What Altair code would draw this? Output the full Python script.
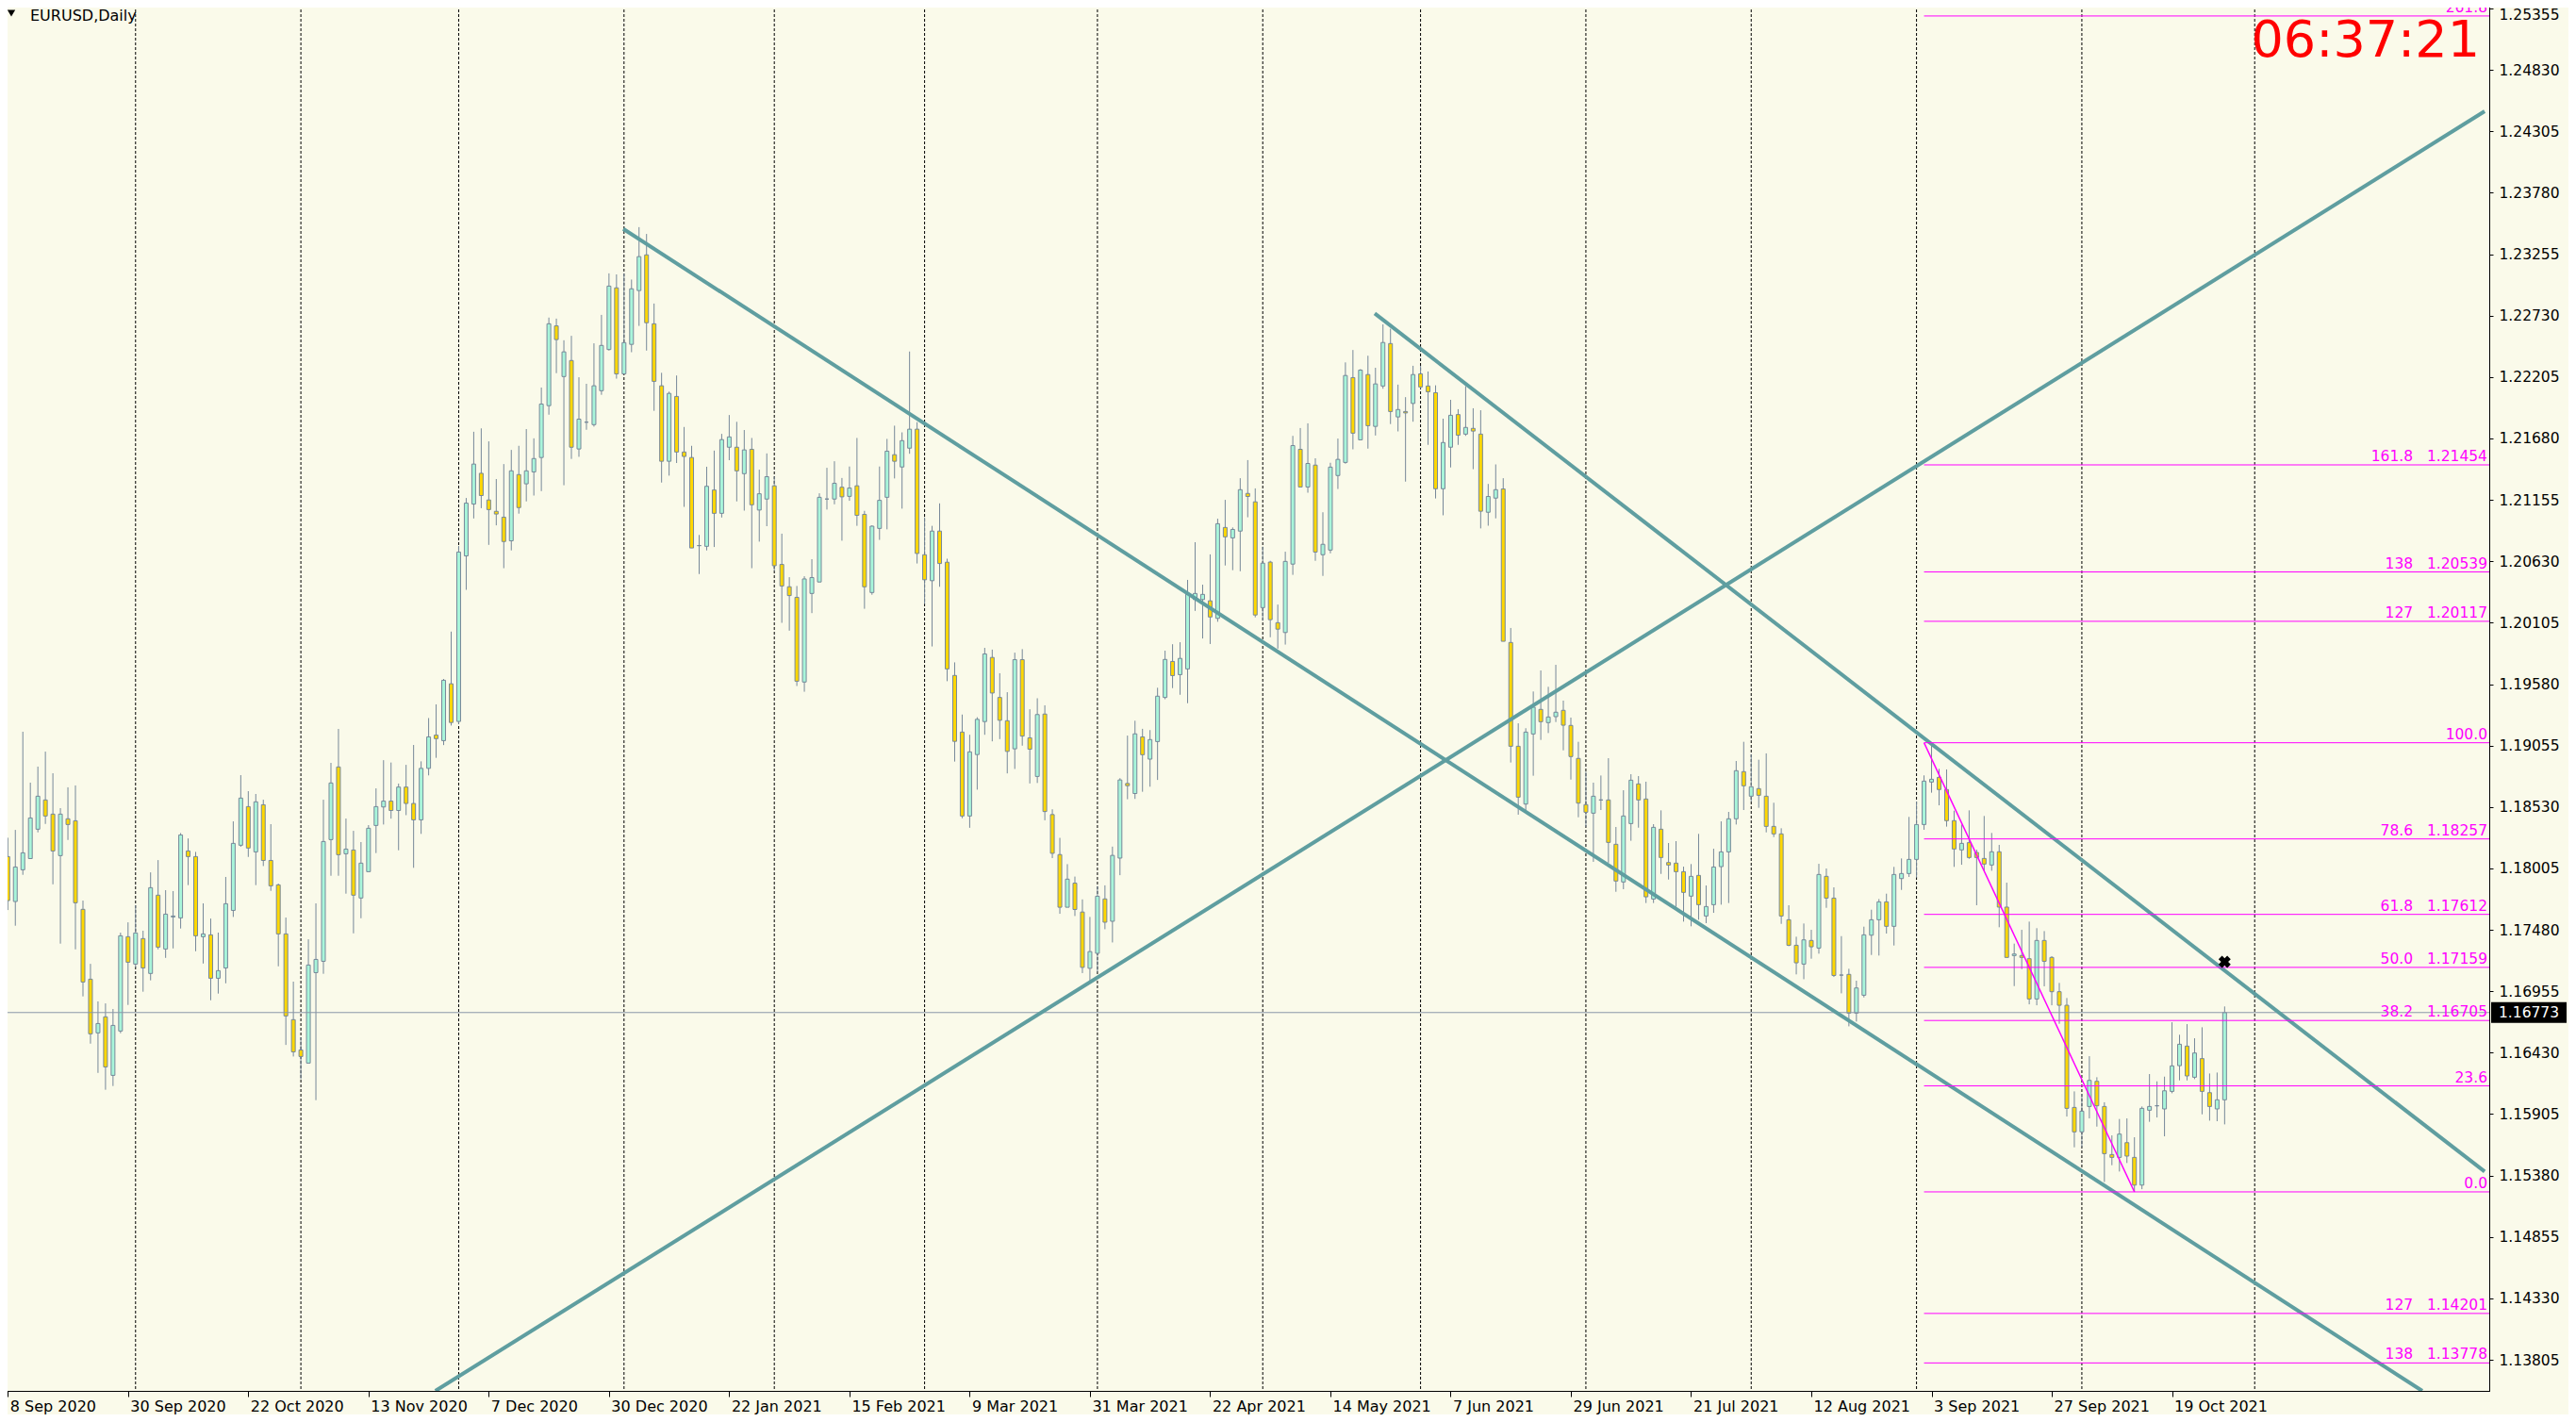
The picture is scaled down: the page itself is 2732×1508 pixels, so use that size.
import altair as alt
import pandas as pd

# ---------------- data (EURUSD daily, bar 0 = 8 Sep 2020) ----------------
opens = [
    1.18106, 1.17722, 1.17993, 1.18089, 1.18340, 1.18590, 1.18469, 1.18114, 1.18429, 1.18412,
    1.17655, 1.17058, 1.16599, 1.16736, 1.16236, 1.16615, 1.17421, 1.17187, 1.17405, 1.17107,
    1.17776, 1.17316, 1.17590, 1.17582, 1.18154, 1.18106, 1.17421, 1.17437, 1.17066, 1.17154,
    1.17646, 1.18203, 1.18533, 1.18146, 1.18549, 1.18073, 1.17864, 1.17445, 1.16712, 1.16453,
    1.16341, 1.17114, 1.17211, 1.18251, 1.18872, 1.18130, 1.18162, 1.17752, 1.17977, 1.18372,
    1.18530, 1.18580, 1.18500, 1.18700, 1.18560, 1.18420, 1.18860, 1.19144, 1.19097, 1.19583,
    1.19261, 1.20676, 1.21119, 1.21382, 1.21154, 1.21057, 1.21007, 1.20805, 1.21371, 1.21292,
    1.21394, 1.21517, 1.21960, 1.22642, 1.22209, 1.22346, 1.21590, 1.21819, 1.21798, 1.22088,
    1.22440, 1.22967, 1.22232, 1.22484, 1.22944, 1.23249, 1.22660, 1.22130, 1.21485, 1.22039,
    1.21564, 1.21517, 1.20764, 1.20758, 1.21239, 1.21040, 1.21605, 1.21605, 1.21379, 1.21587,
    1.21068, 1.21162, 1.21275, 1.20603, 1.20412, 1.20322, 1.19598, 1.20355, 1.20453, 1.21162,
    1.21162, 1.21263, 1.21185, 1.21275, 1.21031, 1.20363, 1.20911, 1.21177, 1.21541, 1.21436,
    1.21597, 1.21759, 1.20686, 1.20464, 1.20888, 1.20622, 1.19654, 1.19170, 1.18453, 1.18978,
    1.19260, 1.19808, 1.19466, 1.19267, 1.19027, 1.19789, 1.19121, 1.18791, 1.19324, 1.18465,
    1.18123, 1.17673, 1.17879, 1.17632, 1.17151, 1.17279, 1.17744, 1.17553, 1.18093, 1.18731,
    1.18645, 1.19129, 1.18939, 1.19089, 1.19466, 1.19774, 1.19661, 1.19710, 1.20303, 1.20303,
    1.20292, 1.20142, 1.20919, 1.20830, 1.20888, 1.21210, 1.21138, 1.20234, 1.20623, 1.20105,
    1.20021, 1.20606, 1.21587, 1.21265, 1.21452, 1.20686, 1.20726, 1.21363, 1.21475, 1.22200,
    1.21668, 1.22226, 1.21783, 1.22128, 1.22491, 1.21864, 1.21910, 1.21979, 1.22232, 1.22128,
    1.22071, 1.21250, 1.21605, 1.21884, 1.21717, 1.21766, 1.21717, 1.21049, 1.21170, 1.21248,
    1.19936, 1.19049, 1.18555, 1.19154, 1.19364, 1.19251, 1.19302, 1.19356, 1.19227, 1.18945,
    1.18550, 1.18477, 1.18590, 1.18590, 1.18211, 1.17889, 1.18388, 1.18727, 1.18598, 1.17743,
    1.18340, 1.18055, 1.18050, 1.17977, 1.17768, 1.17945, 1.17598, 1.17695, 1.18020, 1.18146,
    1.18429, 1.18832, 1.18622, 1.18687, 1.18622, 1.18364, 1.18300, 1.17566, 1.17348, 1.17187,
    1.17389, 1.17324, 1.17937, 1.17751, 1.17093, 1.17099, 1.16768, 1.16921, 1.17434, 1.17566,
    1.17719, 1.17510, 1.17918, 1.17961, 1.18082, 1.18380, 1.18743, 1.18783, 1.18679, 1.18413,
    1.18163, 1.18225, 1.18141, 1.18090, 1.18034, 1.18147, 1.17674, 1.17260, 1.17260, 1.17233,
    1.16889, 1.17389, 1.17244, 1.16951, 1.16835, 1.15962, 1.15753, 1.15970, 1.16185, 1.15970,
    1.15559, 1.15535, 1.15661, 1.15535, 1.15298, 1.15938, 1.15976, 1.15949, 1.16099, 1.16319,
    1.16486, 1.16220, 1.16379, 1.16088, 1.15949, 1.16027,
]
highs = [
    1.18267, 1.18334, 1.19173, 1.18738, 1.18875, 1.19003, 1.18818, 1.18520, 1.18698, 1.18714,
    1.17730, 1.17189, 1.16868, 1.16851, 1.16803, 1.17456, 1.17544, 1.17690, 1.17472, 1.17971,
    1.18076, 1.17819, 1.17811, 1.18307, 1.18261, 1.18146, 1.17706, 1.17576, 1.17456, 1.17932,
    1.18407, 1.18802, 1.18665, 1.18641, 1.18592, 1.18383, 1.17875, 1.17585, 1.17037, 1.16561,
    1.17399, 1.17706, 1.18592, 1.18907, 1.19197, 1.18431, 1.18326, 1.18230, 1.18375, 1.18689,
    1.18930, 1.18910, 1.18730, 1.18890, 1.19060, 1.18920, 1.19290, 1.19407, 1.19624, 1.20029,
    1.20761, 1.21171, 1.21737, 1.21766, 1.21655, 1.21333, 1.21461, 1.21582, 1.21617, 1.21760,
    1.21681, 1.22115, 1.22713, 1.22704, 1.22519, 1.22557, 1.22203, 1.22147, 1.22493, 1.22736,
    1.23091, 1.23082, 1.23091, 1.23038, 1.23486, 1.23428, 1.22833, 1.22241, 1.22080, 1.22218,
    1.21778, 1.21617, 1.20855, 1.21438, 1.21576, 1.21719, 1.21880, 1.21822, 1.21752, 1.21684,
    1.21413, 1.21552, 1.21353, 1.20866, 1.20494, 1.20419, 1.20502, 1.20648, 1.21211, 1.21429,
    1.21485, 1.21342, 1.21440, 1.21684, 1.21061, 1.20937, 1.21440, 1.21676, 1.21789, 1.21732,
    1.22423, 1.21819, 1.21005, 1.20933, 1.21125, 1.20652, 1.19766, 1.19320, 1.19147, 1.19297,
    1.19890, 1.19875, 1.19673, 1.19511, 1.19849, 1.19879, 1.19365, 1.19459, 1.19399, 1.18510,
    1.18266, 1.18041, 1.17935, 1.17740, 1.17590, 1.17853, 1.17860, 1.18191, 1.18776, 1.19140,
    1.19267, 1.19198, 1.19187, 1.19549, 1.19866, 1.19921, 1.19938, 1.20471, 1.20793, 1.20430,
    1.20689, 1.20994, 1.21155, 1.20919, 1.21340, 1.21495, 1.21253, 1.20755, 1.20634, 1.20260,
    1.20712, 1.21702, 1.21769, 1.21809, 1.21510, 1.21049, 1.21472, 1.21679, 1.22330, 1.22436,
    1.22272, 1.22387, 1.22284, 1.22655, 1.22618, 1.22140, 1.22033, 1.22301, 1.22301, 1.22252,
    1.22134, 1.21849, 1.22010, 1.21930, 1.22128, 1.21938, 1.21921, 1.21291, 1.21458, 1.21340,
    1.20060, 1.19245, 1.19203, 1.19517, 1.19697, 1.19557, 1.19745, 1.19439, 1.19294, 1.19087,
    1.18832, 1.18738, 1.18799, 1.18947, 1.18359, 1.18673, 1.18810, 1.18794, 1.18746, 1.18383,
    1.18501, 1.18222, 1.18238, 1.18020, 1.18042, 1.18300, 1.17859, 1.18173, 1.18407, 1.18488,
    1.18923, 1.19087, 1.18979, 1.18934, 1.18988, 1.18566, 1.18348, 1.17690, 1.17421, 1.17534,
    1.17480, 1.18044, 1.18004, 1.17843, 1.17426, 1.17147, 1.17045, 1.17507, 1.17652, 1.17743,
    1.17789, 1.18018, 1.18090, 1.18445, 1.18577, 1.18800, 1.19060, 1.18856, 1.18851, 1.18498,
    1.18380, 1.18501, 1.18165, 1.18453, 1.18308, 1.18206, 1.17883, 1.17362, 1.17480, 1.17550,
    1.17494, 1.17469, 1.17255, 1.17026, 1.16897, 1.16099, 1.16078, 1.16400, 1.16220, 1.16006,
    1.15723, 1.15863, 1.15868, 1.15707, 1.15970, 1.16247, 1.16185, 1.16225, 1.16690, 1.16583,
    1.16674, 1.16553, 1.16647, 1.16252, 1.16260, 1.16825,
]
lows = [
    1.17649, 1.17515, 1.17950, 1.18089, 1.18313, 1.18385, 1.17869, 1.17362, 1.18248, 1.17313,
    1.16911, 1.16507, 1.16257, 1.16113, 1.16145, 1.16596, 1.16838, 1.17160, 1.16951, 1.17048,
    1.17313, 1.17240, 1.17321, 1.17491, 1.17862, 1.17297, 1.17192, 1.16878, 1.16935, 1.17023,
    1.17590, 1.18190, 1.18103, 1.17862, 1.18025, 1.17813, 1.17168, 1.16496, 1.16397, 1.16204,
    1.16341, 1.16024, 1.17104, 1.17942, 1.17942, 1.17789, 1.17450, 1.17579, 1.17977, 1.18136,
    1.18380, 1.18430, 1.18160, 1.18460, 1.18010, 1.18300, 1.18800, 1.18950, 1.19059, 1.19226,
    1.19238, 1.20386, 1.20996, 1.21084, 1.20770, 1.20937, 1.20571, 1.20723, 1.21037, 1.21142,
    1.21192, 1.21230, 1.21883, 1.22238, 1.21280, 1.21505, 1.21523, 1.21754, 1.21781, 1.22053,
    1.22431, 1.22191, 1.22232, 1.22417, 1.22642, 1.22431, 1.21916, 1.21303, 1.21362, 1.21470,
    1.21095, 1.20744, 1.20521, 1.20723, 1.20752, 1.21004, 1.21494, 1.21142, 1.21063, 1.20571,
    1.20798, 1.20930, 1.20547, 1.20104, 1.20037, 1.19564, 1.19515, 1.20187, 1.20453, 1.21072,
    1.21117, 1.20806, 1.21147, 1.20933, 1.20224, 1.20344, 1.20813, 1.20903, 1.21338, 1.21080,
    1.21549, 1.20611, 1.20265, 1.19902, 1.20412, 1.19605, 1.18918, 1.18434, 1.18352, 1.18678,
    1.19147, 1.19091, 1.19110, 1.18817, 1.18855, 1.19054, 1.18731, 1.18735, 1.18416, 1.18093,
    1.17617, 1.17673, 1.17598, 1.17110, 1.17046, 1.17121, 1.17485, 1.17372, 1.17947, 1.18596,
    1.18599, 1.18660, 1.18703, 1.18761, 1.19451, 1.19546, 1.19489, 1.19417, 1.20206, 1.19970,
    1.19923, 1.20113, 1.20594, 1.20554, 1.20545, 1.21006, 1.20151, 1.20122, 1.19981, 1.19883,
    1.19918, 1.20514, 1.21265, 1.21216, 1.20634, 1.20505, 1.20698, 1.21248, 1.21464, 1.21587,
    1.21668, 1.21593, 1.21705, 1.22105, 1.21803, 1.21740, 1.21311, 1.21823, 1.22105, 1.21625,
    1.21167, 1.21023, 1.21432, 1.21625, 1.21702, 1.21417, 1.20911, 1.20934, 1.20997, 1.19946,
    1.18910, 1.18464, 1.18501, 1.18797, 1.19103, 1.19162, 1.19256, 1.19014, 1.18764, 1.18442,
    1.18361, 1.18061, 1.18504, 1.18053, 1.17805, 1.17827, 1.18241, 1.18353, 1.17709, 1.17709,
    1.17958, 1.17910, 1.17676, 1.17550, 1.17510, 1.17566, 1.17537, 1.17625, 1.17695, 1.17709,
    1.18380, 1.18504, 1.18576, 1.18523, 1.18313, 1.18273, 1.17531, 1.17340, 1.17099, 1.17058,
    1.17233, 1.17276, 1.17668, 1.17077, 1.16937, 1.16655, 1.16696, 1.16902, 1.17265, 1.17260,
    1.17448, 1.17346, 1.17821, 1.17932, 1.17926, 1.18335, 1.18652, 1.18544, 1.18362, 1.18018,
    1.18036, 1.18087, 1.17690, 1.17985, 1.17985, 1.17502, 1.17244, 1.16999, 1.17144, 1.16843,
    1.16835, 1.16997, 1.16835, 1.16677, 1.15884, 1.15621, 1.15621, 1.15868, 1.15798, 1.15325,
    1.15468, 1.15414, 1.15487, 1.15240, 1.15263, 1.15839, 1.15876, 1.15715, 1.16083, 1.16193,
    1.16193, 1.16204, 1.15903, 1.15849, 1.15844, 1.15817,
]
closes = [
    1.17730, 1.18017, 1.18138, 1.18436, 1.18622, 1.18453, 1.18154, 1.18469, 1.18380, 1.17711,
    1.17034, 1.16591, 1.16679, 1.16308, 1.16663, 1.17429, 1.17203, 1.17453, 1.17154, 1.17840,
    1.17332, 1.17614, 1.17598, 1.18291, 1.18106, 1.17429, 1.17445, 1.17066, 1.17131, 1.17703,
    1.18219, 1.18606, 1.18179, 1.18574, 1.18073, 1.17856, 1.17445, 1.16744, 1.16437, 1.16397,
    1.17179, 1.17227, 1.18235, 1.18735, 1.18122, 1.18170, 1.17776, 1.18050, 1.18348, 1.18533,
    1.18580, 1.18500, 1.18700, 1.18560, 1.18420, 1.18860, 1.19129, 1.19114, 1.19613, 1.19252,
    1.20709, 1.21127, 1.21461, 1.21192, 1.21072, 1.21034, 1.20799, 1.21403, 1.21089, 1.21403,
    1.21508, 1.21974, 1.22660, 1.22525, 1.22420, 1.21605, 1.21845, 1.21819, 1.22130, 1.22475,
    1.22982, 1.22232, 1.22499, 1.22959, 1.23234, 1.22669, 1.22168, 1.21485, 1.22065, 1.21564,
    1.21526, 1.20744, 1.20764, 1.21271, 1.21040, 1.21670, 1.21693, 1.21403, 1.21582, 1.21113,
    1.21207, 1.21353, 1.20592, 1.20419, 1.20337, 1.19605, 1.20479, 1.20491, 1.21177, 1.21162,
    1.21297, 1.21181, 1.21256, 1.21023, 1.20412, 1.20930, 1.21151, 1.21571, 1.21485, 1.21661,
    1.21759, 1.20697, 1.20472, 1.20888, 1.20611, 1.19710, 1.19091, 1.18453, 1.19001, 1.19279,
    1.19838, 1.19504, 1.19271, 1.19005, 1.19789, 1.19136, 1.19024, 1.19320, 1.18491, 1.18134,
    1.17673, 1.17913, 1.17654, 1.17159, 1.17294, 1.17767, 1.17545, 1.18116, 1.18761, 1.18712,
    1.19155, 1.18977, 1.19106, 1.19477, 1.19791, 1.19653, 1.19800, 1.20349, 1.20355, 1.20347,
    1.20154, 1.20951, 1.20839, 1.20902, 1.21242, 1.21184, 1.20171, 1.20614, 1.20131, 1.20050,
    1.20629, 1.21619, 1.21265, 1.21466, 1.20709, 1.20775, 1.21435, 1.21501, 1.22218, 1.21725,
    1.22264, 1.21789, 1.22146, 1.22500, 1.21910, 1.21927, 1.21898, 1.22226, 1.22120, 1.22079,
    1.21250, 1.21645, 1.21878, 1.21708, 1.21774, 1.21743, 1.21058, 1.21184, 1.21242, 1.19946,
    1.19049, 1.18614, 1.19170, 1.19383, 1.19259, 1.19299, 1.19340, 1.19229, 1.18961, 1.18563,
    1.18485, 1.18622, 1.18590, 1.18227, 1.17897, 1.18453, 1.18759, 1.18590, 1.17762, 1.18356,
    1.18098, 1.18034, 1.17977, 1.17800, 1.17937, 1.17695, 1.17679, 1.18017, 1.18146, 1.18429,
    1.18840, 1.18711, 1.18703, 1.18630, 1.18364, 1.18300, 1.17598, 1.17348, 1.17198, 1.17394,
    1.17335, 1.17953, 1.17751, 1.17090, 1.17093, 1.16768, 1.16983, 1.17437, 1.17566, 1.17719,
    1.17510, 1.17953, 1.17961, 1.18082, 1.18380, 1.18751, 1.18767, 1.18679, 1.18413, 1.18171,
    1.18219, 1.18098, 1.18098, 1.18042, 1.18147, 1.17674, 1.17244, 1.17273, 1.17244, 1.16889,
    1.17389, 1.17211, 1.16951, 1.16835, 1.15954, 1.15753, 1.15930, 1.16193, 1.15976, 1.15567,
    1.15535, 1.15734, 1.15546, 1.15298, 1.15954, 1.15970, 1.15976, 1.16104, 1.16317, 1.16502,
    1.16231, 1.16427, 1.16099, 1.15970, 1.16027, 1.16773,
]

# bottom axis: bar index of each date label
date_label_idx = [0, 16, 32, 48, 64, 80, 96, 112, 128, 144, 160, 176, 192, 208, 224, 240, 256, 272, 288]
date_labels = ["8 Sep 2020", "30 Sep 2020", "22 Oct 2020", "13 Nov 2020", "7 Dec 2020",
               "30 Dec 2020", "22 Jan 2021", "15 Feb 2021", "9 Mar 2021", "31 Mar 2021",
               "22 Apr 2021", "14 May 2021", "7 Jun 2021", "29 Jun 2021", "21 Jul 2021",
               "12 Aug 2021", "3 Sep 2021", "27 Sep 2021", "19 Oct 2021"]
# vertical dotted grid (first bar of each month)
month_idx = [17, 39, 60, 82, 102, 122, 145, 167, 188, 210, 232, 254, 276, 299]
# right axis price ticks
price_ticks = [1.25355, 1.24830, 1.24305, 1.23780, 1.23255, 1.22730, 1.22205, 1.21680,
               1.21155, 1.20630, 1.20105, 1.19580, 1.19055, 1.18530, 1.18005, 1.17480,
               1.16955, 1.16430, 1.15905, 1.15380, 1.14855, 1.14330, 1.13805]

# trend lines (bar index, price) start / end
trend_i0 = [81.9, 181.9, 56.9]
trend_p0 = [1.23471, 1.22748, 1.13539]
trend_i1 = [321.3, 329.6, 329.6]
trend_p1 = [1.13539, 1.15414, 1.24476]

# Fibonacci retracement
fib_start_idx = 255
fib_end_idx = 283
fib_high = 1.19079
fib_low = 1.15240
fib_names = ["261.8", "161.8", "138", "127", "100.0", "78.6", "61.8", "50.0", "38.2", "23.6", "0.0", "127", "138"]
fib_prices = [1.25291, 1.21454, 1.20539, 1.20117, 1.19079, 1.18257, 1.17612, 1.17159, 1.16705,
              1.16146, 1.15240, 1.14201, 1.13778]
fib_price_shown = [False, True, True, True, False, True, True, True, True, False, False, True, True]

current_price = 1.16773
marker_idx = 295
marker_price = 1.17206
clock_text = "06:37:21"
title_text = "EURUSD,Daily"

# ---------------- styling ----------------
W, H = 2640, 1475
BG = "#FAFAEA"
BULL = "#A8F5DA"
BEAR = "#FFD700"
EDGE = "#778899"
TEAL = "#5F9EA0"
MAG = "#FF00FF"
FONT = "DejaVu Sans"

xs = alt.Scale(domain=[-0.4125, 329.5875], nice=False, zero=False)
ys = alt.Scale(domain=[1.135391, 1.254275], nice=False, zero=False)

label_expr = ("[" + ",".join("'" + s + "'" for s in date_labels) + "][indexof(["
              + ",".join(str(v) for v in date_label_idx) + "], datum.value)]")

x_axis = alt.Axis(values=date_label_idx, labelExpr=label_expr, title=None, grid=False,
                  orient="bottom", tickSize=6, tickColor="black", domainColor="black",
                  labelAlign="left", labelOffset=2, labelPadding=2, labelBaseline="top",
                  labelFont=FONT, labelFontSize=16, labelColor="black",
                  labelFlush=False, labelOverlap=False, labelBound=False)
y_axis = alt.Axis(values=price_ticks, format=".5f", title=None, grid=False, orient="right",
                  tickSize=4, tickColor="black", domainColor="black", labelPadding=6,
                  labelAlign="left",
                  labelBaseline={"condition": {"test": "datum.value > 1.25", "value": "top"},
                                 "value": "middle"},
                  labelFont=FONT, labelFontSize=15.5, labelColor="black", labelFlush=False,
                  labelOverlap=False, labelBound=False)


def X(f):
    return alt.X(f, type="quantitative", scale=xs, axis=x_axis)


def Y(f):
    return alt.Y(f, type="quantitative", scale=ys, axis=y_axis)


bars = pd.DataFrame({"i": list(range(len(opens))), "o": opens, "h": highs, "l": lows, "c": closes})

grid = alt.Chart(pd.DataFrame({"i": month_idx})).mark_rule(
    color="black", strokeWidth=1, strokeDash=[3, 2]).encode(x=X("i"))

wicks = alt.Chart(bars).mark_rule(color=EDGE, strokeWidth=1).encode(
    x=X("i"), y=Y("l"), y2="h")

bodies = alt.Chart(bars).mark_bar(size=4, stroke=EDGE, strokeWidth=1).encode(
    x=X("i"), y=Y("o"), y2="c",
    fill=alt.condition("datum.c >= datum.o", alt.value(BULL), alt.value(BEAR)))

price_line = alt.Chart(pd.DataFrame({"p": [current_price]})).mark_rule(
    color="#8A97A8", strokeWidth=1).encode(y=Y("p"))

trend_df = pd.DataFrame({"i0": trend_i0, "p0": trend_p0, "i1": trend_i1, "p1": trend_p1})
trends = alt.Chart(trend_df).mark_rule(color=TEAL, strokeWidth=4, clip=True).encode(
    x=X("i0"), y=Y("p0"), x2="i1", y2="p1")

fib_df = pd.DataFrame({
    "i": [fib_start_idx] * len(fib_prices),
    "p": fib_prices,
    "t": [n + ("\u00a0\u00a0\u00a0" + f"{p:.5f}" if s else "")
          for n, p, s in zip(fib_names, fib_prices, fib_price_shown)],
})
fib_lines = alt.Chart(fib_df).mark_rule(color=MAG, strokeWidth=1, clip=True).encode(
    x=X("i"), x2=alt.value(W), y=Y("p"))
fib_text = alt.Chart(fib_df).mark_text(
    align="right", baseline="alphabetic", dy=-4, font=FONT, fontSize=15.5,
    color=MAG, clip=True).encode(x=alt.value(W - 2), y=Y("p"), text="t")

fib_diag = alt.Chart(pd.DataFrame({"i0": [fib_start_idx], "p0": [fib_high],
                                   "i1": [fib_end_idx], "p1": [fib_low]})).mark_rule(
    color=MAG, strokeWidth=1.5).encode(x=X("i0"), y=Y("p0"), x2="i1", y2="p1")

marker = alt.Chart(pd.DataFrame({"i": [marker_idx], "p": [marker_price]})).mark_point(
    shape="cross", angle=45, filled=True, size=170, color="black", opacity=1).encode(
    x=X("i"), y=Y("p"))

box = alt.Chart(pd.DataFrame({"p": [current_price]})).mark_rect(
    color="black", yOffset=-11, y2Offset=11, clip=False).encode(
    x=alt.value(W + 2), x2=alt.value(W + 82), y=Y("p"), y2="p")
box_text = alt.Chart(pd.DataFrame({"p": [current_price], "t": [f"{current_price:.5f}"]})).mark_text(
    align="left", baseline="middle", font=FONT, fontSize=15.5, color="white").encode(
    x=alt.value(W + 10), y=Y("p"), text="t")

clock = alt.Chart(pd.DataFrame({"t": [clock_text]})).mark_text(
    align="right", baseline="alphabetic", font=FONT, fontSize=54, color="#FF0000").encode(
    x=alt.value(2630), y=alt.value(60), text="t")

title = alt.Chart(pd.DataFrame({"t": [title_text]})).mark_text(
    align="left", baseline="alphabetic", font=FONT, fontSize=16, color="black").encode(
    x=alt.value(32), y=alt.value(22), text="t")
tri = alt.Chart(pd.DataFrame({"t": [title_text]})).mark_point(
    shape="triangle-down", filled=True, size=70, color="black", opacity=1).encode(
    x=alt.value(12), y=alt.value(14))

chart = alt.layer(
    grid, wicks, bodies, price_line, trends, fib_lines, fib_diag, fib_text,
    marker, box, box_text, clock, title, tri,
).properties(
    width=W, height=H, background=BG,
    padding={"left": -8, "top": -8, "right": 84, "bottom": 25},
    autosize=alt.AutoSizeParams(type="none"),
).configure_view(stroke="black", strokeWidth=1)

chart.save("out.html", embed_options={"renderer": "svg", "actions": False})
